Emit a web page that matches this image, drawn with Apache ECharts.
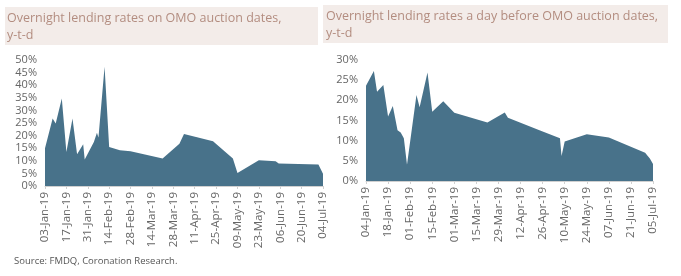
<!DOCTYPE html>
<html style="height: 100%">
<head>
<meta charset="utf-8">
</head>
<body style="height: 100%; margin: 0; background: #fff">
<div id="container" style="width: 681px; height: 276px"></div>
<script type="text/javascript" src="https://cdn.jsdelivr.net/npm/echarts@6/dist/echarts.min.js"></script>
<script type="text/javascript">

// Overnight lending rates on OMO auction dates (%)
var omoDates = ['2019-01-03', '2019-01-08', '2019-01-10', '2019-01-14', '2019-01-17', '2019-01-21',
    '2019-01-24', '2019-01-25', '2019-01-28', '2019-01-29', '2019-01-30', '2019-02-04', '2019-02-06',
    '2019-02-07', '2019-02-11', '2019-02-14', '2019-02-21', '2019-02-28', '2019-03-21', '2019-04-01',
    '2019-04-04', '2019-04-23', '2019-05-06', '2019-05-09', '2019-05-23', '2019-06-03', '2019-06-05',
    '2019-07-01', '2019-07-04'];
var omoRates = [15, 26.8, 24.8, 34.7, 13.5, 26.8, 12.6, 12.2, 16.6, 10.5, 10.9, 17.5, 21.1,
    19.2, 47.3, 15.5, 14.2, 13.8, 10.9, 16.8, 20.6, 17.8, 10.9, 5.2, 10.2, 9.8, 8.9, 8.5, 4.9];

// Overnight lending rates a day before OMO auction dates (%)
var preDates = ['2019-01-04', '2019-01-09', '2019-01-11', '2019-01-15', '2019-01-18', '2019-01-21',
    '2019-01-24', '2019-01-26', '2019-01-28', '2019-01-30', '2019-02-05', '2019-02-07', '2019-02-12',
    '2019-02-15', '2019-02-22', '2019-03-01', '2019-03-22', '2019-04-02', '2019-04-04', '2019-04-24',
    '2019-05-07', '2019-05-08', '2019-05-10', '2019-05-24', '2019-06-07', '2019-06-30', '2019-07-03',
    '2019-07-05'];
var preRates = [23.6, 27.3, 22.1, 23.8, 16.0, 18.6, 12.6, 12.0, 10.6, 4.0, 21.3, 18.3, 26.9,
    17.2, 19.8, 16.9, 14.5, 17.0, 15.7, 12.6, 10.6, 6.2, 9.8, 11.6, 10.8, 7.0, 5.6, 4.2];

var leftTitle = 'Overnight lending rates on OMO auction dates,\ny-t-d';
var rightTitle = 'Overnight lending rates a day before OMO auction dates,\ny-t-d';
var sourceText = 'Source: FMDQ, Coronation Research.';

var DAY = 86400000;
var MONTHS = ['Jan', 'Feb', 'Mar', 'Apr', 'May', 'Jun', 'Jul', 'Aug', 'Sep', 'Oct', 'Nov', 'Dec'];

function toPoints(dates, values) {
    var start = Date.parse(dates[0]);
    return dates.map(function (d, i) {
        return [(Date.parse(d) - start) / DAY, values[i]];
    });
}

function dayLabel(startStr) {
    var start = Date.parse(startStr);
    return function (v) {
        var d = new Date(start + v * DAY);
        var dd = d.getUTCDate();
        return (dd < 10 ? '0' + dd : dd) + '-' + MONTHS[d.getUTCMonth()] + '-19';
    };
}

var FONT = '"Open Sans", sans-serif';
var fill = '#48728a';

function xAxis(idx, startStr) {
    return {
        type: 'value', gridIndex: idx, min: 0, max: 182, interval: 14,
        axisLine: { lineStyle: { color: '#d0d0d0' } },
        axisTick: { show: true, length: 3, lineStyle: { color: '#d0d0d0' } },
        splitLine: { show: false },
        axisLabel: {
            rotate: 90, color: '#666', fontSize: 11.5, fontFamily: FONT, margin: 6,
            formatter: dayLabel(startStr)
        }
    };
}

function yAxis(idx, max) {
    return {
        type: 'value', gridIndex: idx, min: 0, max: max, interval: 5,
        axisLine: { show: false }, axisTick: { show: false }, splitLine: { show: false },
        axisLabel: { color: '#666', fontSize: 11, fontFamily: FONT, margin: 8, formatter: '{value}%' }
    };
}

function areaSeries(idx, data) {
    return {
        type: 'line', xAxisIndex: idx, yAxisIndex: idx, data: data,
        symbol: 'none', lineStyle: { width: 0 }, areaStyle: { color: fill, opacity: 1 },
        animation: false
    };
}

var dom = document.getElementById('container');
var myChart = echarts.init(dom, null, { renderer: 'canvas' });

var option = {
    backgroundColor: '#fff',
    grid: [
        { left: 45, top: 60, width: 278, height: 126 },
        { left: 366, top: 60, width: 287, height: 121 }
    ],
    xAxis: [xAxis(0, omoDates[0]), xAxis(1, preDates[0])],
    yAxis: [yAxis(0, 50), yAxis(1, 30)],
    series: [
        areaSeries(0, toPoints(omoDates, omoRates)),
        areaSeries(1, toPoints(preDates, preRates))
    ],
    graphic: [
        { type: 'rect', left: 5, top: 7, shape: { width: 313, height: 38 }, style: { fill: '#f3ece9' } },
        { type: 'text', left: 7, top: 10, style: { text: leftTitle, fill: '#b38d80', fontSize: 12.5, fontFamily: FONT, lineHeight: 17 } },
        { type: 'rect', left: 323, top: 5, shape: { width: 345, height: 38 }, style: { fill: '#f3ece9' } },
        { type: 'text', left: 326, top: 8, style: { text: rightTitle, fill: '#b38d80', fontSize: 12.5, fontFamily: FONT, lineHeight: 17 } },
        { type: 'text', left: 14, top: 256, style: { text: sourceText, fill: '#555', fontSize: 9.5, fontFamily: FONT } }
    ]
};

myChart.setOption(option);

</script>
</body>
</html>
